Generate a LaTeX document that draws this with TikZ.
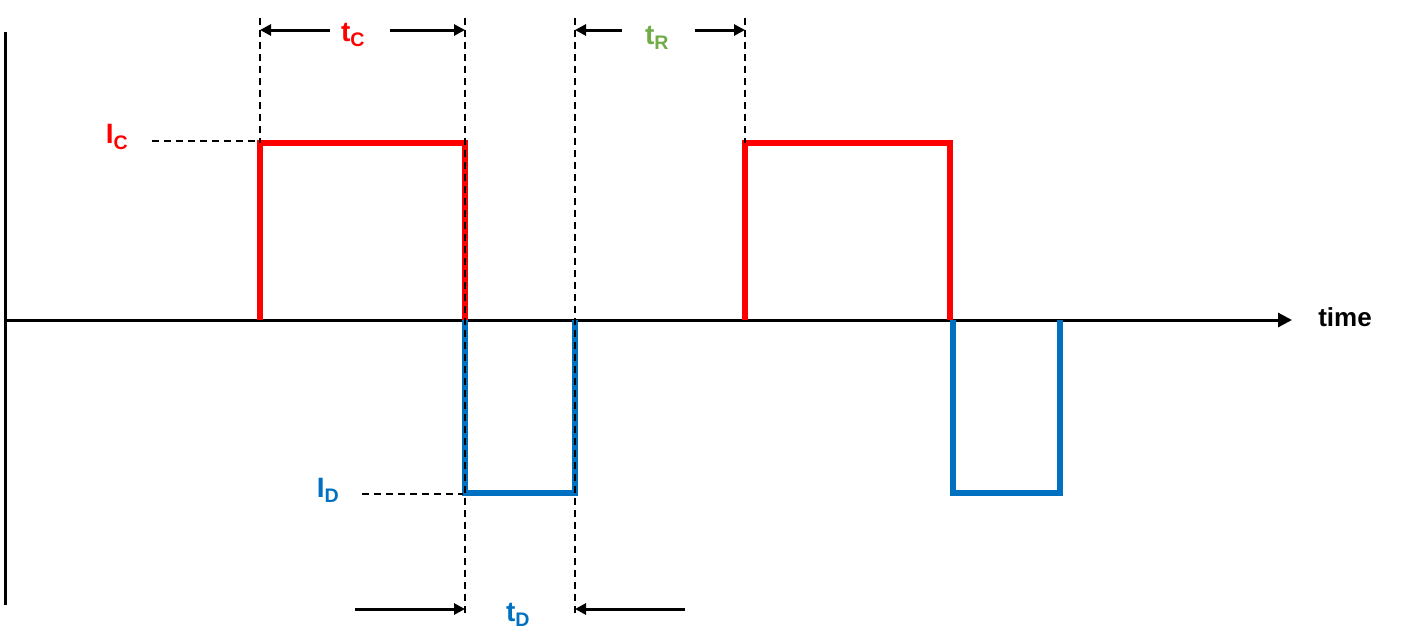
\documentclass[tikz,border=0pt]{standalone}
\usepackage{fontspec}
\setmainfont{Liberation Sans}
\usetikzlibrary{arrows.meta}
\definecolor{cred}{HTML}{FF0000}
\definecolor{cblue}{HTML}{0070C0}
\definecolor{cgreen}{HTML}{70AD47}
\begin{document}
\begin{tikzpicture}[x=1pt,y=-1pt,
  ax/.style={line width=3pt},
  sig/.style={line width=5.5pt},
  dsh/.style={line width=1.8pt,dash pattern=on 7pt off 5pt},
  dim/.style={line width=3pt,-{Triangle[length=11pt,width=11pt]}},
  lab/.style={font=\fontsize{28}{30}\selectfont\bfseries,inner sep=0pt}]
\useasboundingbox (0,0) rectangle (1403,638);
% axes
\coordinate (v1) at (5,32); \coordinate (v2) at (5,605);
\draw[ax] (v1) -- (v2);
\coordinate (h1) at (5,320); \coordinate (h2) at (1292,320);
\draw[ax,-{Triangle[length=14pt,width=14pt]}] (h1) -- (h2);
\node[lab,font=\fontsize{26}{28}\selectfont\bfseries] (time) at (1345,317) {time};
% signals
\draw[sig,cred,line join=miter] (260,320) -- (260,143) -- (465,143) -- (465,320);
\draw[sig,cblue] (465,320) -- (465,493) -- (575,493) -- (575,320);
\draw[sig,cred] (745,320) -- (745,143) -- (950,143) -- (950,320);
\draw[sig,cblue] (953,320) -- (953,493) -- (1060,493) -- (1060,320);
% dashed
\coordinate (a1) at (260,18); \coordinate (a2) at (260,143);
\coordinate (b1) at (465,18); \coordinate (b2) at (465,615);
\coordinate (c1) at (575,18); \coordinate (c2) at (575,615);
\coordinate (d1) at (745,18); \coordinate (d2) at (745,143);
\draw[dsh] (a1)--(a2); \draw[dsh] (b1)--(b2); \draw[dsh] (c1)--(c2); \draw[dsh] (d1)--(d2);
\coordinate (ic1) at (152,141); \coordinate (ic2) at (258,141);
\coordinate (id1) at (362,494); \coordinate (id2) at (463,494);
\draw[dsh] (ic1)--(ic2); \draw[dsh] (id1)--(id2);
% labels
\node[lab,cred] (IC) at (117,137) {I\textsubscript{C}};
\node[lab,cblue] (ID) at (328,490) {I\textsubscript{D}};
\node[lab,cred] (tC) at (353,35) {t\textsubscript{C}};
\node[lab,cgreen] (tR) at (657,38) {t\textsubscript{R}};
\node[lab,cblue] (tD) at (518,615) {t\textsubscript{D}};
% dimension arrows
\coordinate (p1) at (330,30); \coordinate (p2) at (260,30);
\coordinate (p3) at (390,30); \coordinate (p4) at (465,30);
\draw[dim] (p1)--(p2); \draw[dim] (p3)--(p4);
\coordinate (q1) at (622,30); \coordinate (q2) at (575,30);
\coordinate (q3) at (695,30); \coordinate (q4) at (745,30);
\draw[dim] (q1)--(q2); \draw[dim] (q3)--(q4);
\coordinate (r1) at (355,609); \coordinate (r2) at (465,609);
\coordinate (r3) at (685,609); \coordinate (r4) at (575,609);
\draw[dim] (r1)--(r2); \draw[dim] (r3)--(r4);
\end{tikzpicture}
\end{document}
